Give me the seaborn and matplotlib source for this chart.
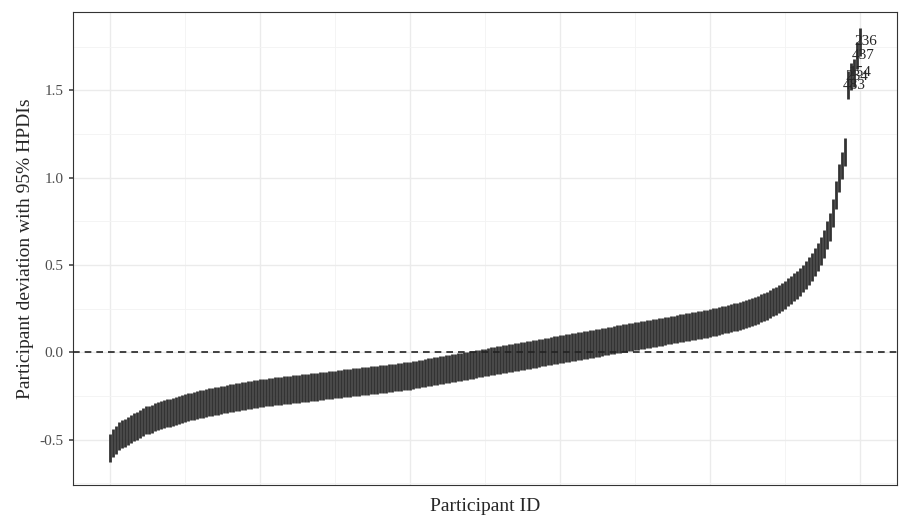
import numpy as np
import pandas as pd
import matplotlib
matplotlib.use("Agg")
import matplotlib.pyplot as plt
import seaborn as sns
from matplotlib.ticker import MultipleLocator

# participant deviations, sorted
mean_dev = [
    -0.55, -0.52, -0.50, -0.48, -0.47, -0.46, -0.45, -0.44, -0.43, -0.42,
    -0.41, -0.40, -0.39, -0.385, -0.38, -0.37, -0.365, -0.36, -0.355, -0.35,
    -0.345, -0.34, -0.335, -0.33, -0.325, -0.32, -0.315, -0.31, -0.305, -0.30,
    -0.297, -0.294, -0.29, -0.287, -0.284, -0.28, -0.277, -0.274, -0.27, -0.267,
    -0.264, -0.261, -0.258, -0.255, -0.252, -0.249, -0.246, -0.243, -0.24, -0.237,
    -0.234, -0.232, -0.23, -0.228, -0.226, -0.224, -0.222, -0.22, -0.218, -0.216,
    -0.214, -0.212, -0.21, -0.208, -0.206, -0.204, -0.202, -0.2, -0.198, -0.196,
    -0.194, -0.192, -0.19, -0.188, -0.186, -0.184, -0.182, -0.18, -0.178, -0.176,
    -0.174, -0.172, -0.17, -0.168, -0.166, -0.164, -0.162, -0.16, -0.158, -0.156,
    -0.154, -0.152, -0.15, -0.148, -0.146, -0.144, -0.142, -0.14, -0.138, -0.136,
    -0.133, -0.13, -0.127, -0.124, -0.121, -0.118, -0.115, -0.112, -0.109, -0.106,
    -0.103, -0.1, -0.097, -0.094, -0.091, -0.088, -0.085, -0.082, -0.079, -0.076,
    -0.073, -0.07, -0.067, -0.064, -0.061, -0.058, -0.055, -0.052, -0.049, -0.046,
    -0.043, -0.04, -0.037, -0.034, -0.031, -0.028, -0.025, -0.022, -0.019, -0.016,
    -0.013, -0.01, -0.007, -0.004, -0.001, 0.002, 0.005, 0.008, 0.011, 0.014,
    0.017, 0.02, 0.023, 0.026, 0.029, 0.032, 0.035, 0.038, 0.041, 0.044,
    0.047, 0.05, 0.053, 0.056, 0.059, 0.062, 0.065, 0.068, 0.071, 0.074,
    0.077, 0.08, 0.083, 0.086, 0.089, 0.092, 0.095, 0.098, 0.101, 0.104,
    0.107, 0.11, 0.113, 0.116, 0.119, 0.122, 0.125, 0.128, 0.131, 0.134,
    0.137, 0.14, 0.143, 0.146, 0.149, 0.152, 0.155, 0.158, 0.161, 0.164,
    0.168, 0.172, 0.176, 0.18, 0.184, 0.188, 0.192, 0.196, 0.2, 0.205,
    0.21, 0.215, 0.22, 0.226, 0.232, 0.238, 0.245, 0.252, 0.26, 0.268,
    0.277, 0.286, 0.296, 0.306, 0.317, 0.33, 0.343, 0.357, 0.372, 0.388,
    0.405, 0.423, 0.443, 0.465, 0.49, 0.515, 0.545, 0.58, 0.62, 0.67,
    0.72, 0.80, 0.90, 1.00, 1.07, 1.15, 1.53, 1.58, 1.60, 1.70, 1.78,
]
half_width = 0.08
top_ids = ["483", "234", "154", "437", "236"]

df = pd.DataFrame({"dev": mean_dev})
df["rank"] = np.arange(len(df))
df["lo"] = df["dev"] - half_width
df["hi"] = df["dev"] + half_width

sns.set_theme(style="whitegrid")
plt.rcParams["font.family"] = ["Liberation Serif", "DejaVu Serif"]
plt.rcParams["axes.unicode_minus"] = False

fig = plt.figure(figsize=(8.99, 5.16), dpi=100)
ax = fig.add_axes([0.081, 0.06, 0.917, 0.917])
ax.vlines(df["rank"], df["lo"], df["hi"], color="#333333", lw=2.0, zorder=3)
ax.axhline(0, color="#222222", ls=(0, (4, 3)), lw=1.2, zorder=4)

for name, (_, row) in zip(top_ids, df.tail(5).iterrows()):
    ax.text(row["rank"] + 2, row["dev"], name, ha="center", va="center", fontsize=11, zorder=5)

n = len(df)
pad = (n - 1) * 0.05
ax.set_xlim(-pad, n - 1 + pad)
ax.set_ylim(-0.76, 1.95)
ax.xaxis.set_major_locator(MultipleLocator(50))
ax.xaxis.set_minor_locator(MultipleLocator(25))
ax.yaxis.set_major_locator(MultipleLocator(0.5))
ax.yaxis.set_minor_locator(MultipleLocator(0.25))
ax.set_xticklabels([])
ax.tick_params(axis="x", length=0)
ax.tick_params(axis="y", labelsize=11, colors="#4d4d4d", length=3, left=True)
ax.grid(which="major", color="#ebebeb", lw=1.0)
ax.grid(which="minor", color="#f3f3f3", lw=0.6)
for s in ax.spines.values():
    s.set_color("#333333")
    s.set_linewidth(0.8)
ax.set_xlabel("Participant ID", fontsize=14, labelpad=2)
ax.set_ylabel("Participant deviation with 95% HPDIs", fontsize=14)
fig.savefig("out.png", dpi=100)
